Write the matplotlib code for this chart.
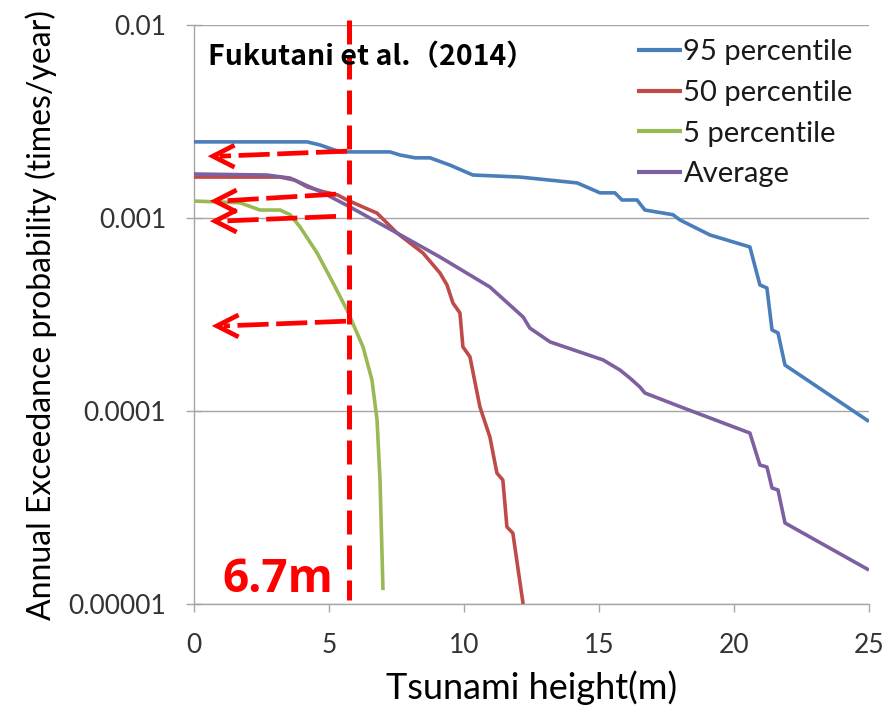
import matplotlib
matplotlib.use("Agg")
import matplotlib.pyplot as plt
from matplotlib.ticker import FixedLocator, NullLocator, FixedFormatter

# Exceedance curves: tsunami height (m) vs annual exceedance probability
p95_h = [0.0, 4.19, 4.67, 5.41, 7.26, 7.63, 8.19, 8.74, 9.48, 10.33, 12.07, 14.19,
         15.04, 15.59, 15.85, 16.41, 16.70, 17.74, 18.0, 19.11, 20.59, 20.96, 21.22,
         21.41, 21.63, 21.89, 25.0]
p95_p = [0.00248, 0.00248, 0.00239, 0.00220, 0.00220, 0.00212, 0.00205, 0.00205,
         0.00188, 0.00167, 0.00163, 0.00152, 0.00135, 0.00135, 0.00124, 0.00124,
         0.00110, 0.00104, 0.000977, 0.000817, 0.000708, 0.000450, 0.000434,
         0.000263, 0.000254, 0.000173, 8.83e-5]

p50_h = [0.0, 3.19, 3.74, 4.19, 4.78, 5.30, 5.67, 6.26, 6.78, 7.52, 8.48, 9.11, 9.37,
         9.59, 9.85, 9.96, 10.22, 10.59, 10.96, 11.22, 11.44, 11.59, 11.81, 12.19]
p50_p = [0.00163, 0.00163, 0.00157, 0.00145, 0.00137, 0.00132, 0.00124, 0.00114,
         0.00106, 0.000836, 0.000659, 0.000519, 0.000450, 0.000363, 0.000322,
         0.000215, 0.000191, 0.000105, 7.33e-5, 4.77e-5, 4.39e-5, 2.51e-5, 2.33e-5,
         1.0e-5]

p5_h = [0.0, 1.70, 2.44, 3.19, 3.56, 3.93, 4.56, 5.15, 5.67, 5.78, 6.26, 6.59, 6.78,
        6.89, 7.0]
p5_p = [0.001224, 0.00120, 0.00110, 0.00110, 0.00104, 0.000898, 0.000659, 0.000461,
        0.000333, 0.000307, 0.000215, 0.000145, 8.98e-5, 4.39e-5, 1.18e-5]

avg_h = [0.0, 2.70, 3.56, 4.78, 5.78, 7.52, 9.11, 10.96, 12.19, 12.44, 13.19, 15.15,
         15.78, 16.15, 16.52, 16.70, 18.11, 20.59, 20.96, 21.22, 21.41, 21.63, 21.89,
         25.0]
avg_p = [0.00169, 0.00167, 0.00161, 0.00135, 0.00114, 0.000836, 0.000628, 0.000439,
         0.000307, 0.000269, 0.000228, 0.000184, 0.000163, 0.000148, 0.000133,
         0.000124, 0.000104, 7.69e-5, 5.25e-5, 5.13e-5, 3.99e-5, 3.90e-5, 2.63e-5,
         1.50e-5]

series_labels = ["95 percentile", "50 percentile", "5 percentile", "Average"]
series_colors = ["#4A7EBB", "#BE4B48", "#98B954", "#7D60A0"]

# Reference height line and read-off arrows (start on the line, tip near the axis)
ref_height = 5.75
ref_label = "6.7m"
arrow_start_h = [5.67, 5.26, 5.26, 5.63]
arrow_start_p = [0.00222, 0.00133, 0.00102, 0.000292]
arrow_tip_h = [0.70, 0.78, 0.78, 0.85]
arrow_tip_p = [0.00209, 0.001225, 0.000964, 0.000276]

y_ticks = [1e-5, 1e-4, 1e-3, 1e-2]
y_tick_labels = ["0.00001", "0.0001", "0.001", "0.01"]
x_ticks = [0, 5, 10, 15, 20, 25]

FONT = "Lato"
TXT = "#333333"
GRID = "#a6a6a6"
RED = "#ff0000"

fig = plt.figure(figsize=(8.94, 7.14), dpi=100)
ax = fig.add_axes([0.217, 0.154, 0.755, 0.811])

curves = [(p95_h, p95_p), (p50_h, p50_p), (p5_h, p5_p), (avg_h, avg_p)]
for (h, p), lab, col in zip(curves, series_labels, series_colors):
    ax.plot(h, p, color=col, lw=2.6, label=lab, solid_joinstyle="round",
            solid_capstyle="butt", zorder=3)

ax.set_yscale("log")
ax.set_xlim(0, 25)
ax.set_ylim(1e-5, 1e-2)

ax.yaxis.set_major_locator(FixedLocator(y_ticks))
ax.yaxis.set_major_formatter(FixedFormatter(y_tick_labels))
ax.yaxis.set_minor_locator(NullLocator())
ax.xaxis.set_major_locator(FixedLocator(x_ticks))
ax.xaxis.set_minor_locator(NullLocator())

ax.grid(axis="y", color=GRID, lw=1.0)
ax.set_axisbelow(True)
for s in ("top", "right"):
    ax.spines[s].set_visible(False)
for s in ("left", "bottom"):
    ax.spines[s].set_color(GRID)
    ax.spines[s].set_linewidth(1.0)

ax.tick_params(axis="y", direction="inout", length=12, width=1.0, color=GRID,
               pad=14, labelsize=19, labelcolor=TXT)
ax.tick_params(axis="x", direction="out", length=6, width=1.0, color=GRID,
               pad=15, labelsize=19, labelcolor=TXT)
for lbl in ax.get_xticklabels() + ax.get_yticklabels():
    lbl.set_fontfamily(FONT)

ax.set_xlabel("Tsunami height(m)", fontsize=26, family=FONT, color="black", labelpad=9)
ax.set_ylabel("Annual Exceedance probability (times/year)", fontsize=23, family=FONT,
              color="black", labelpad=8)

leg = ax.legend(loc="upper left", bbox_to_anchor=(0.656, 0.975), frameon=False,
                prop={"family": FONT, "size": 21}, handlelength=1.55,
                handletextpad=0.05, labelspacing=0.50, borderpad=0, borderaxespad=0)
for t in leg.get_texts():
    t.set_color("#1a1a1a")
for hl in leg.get_lines():
    hl.set_linewidth(3.0)

ax.text(0.021, 0.945, "Fukutani et al.（2014）", transform=ax.transAxes,
        family=["Noto Sans CJK JP", "DejaVu Sans"],
        fontweight="bold", fontsize=20.5, ha="left", va="center", color="black",
        zorder=5)

# vertical reference line
ax.plot([ref_height, ref_height], [1.06e-2, 1.05e-5], color=RED, lw=3.6,
        dashes=(4.8, 2.2), clip_on=False, zorder=4)

# dashed read-off arrows with open chevron heads
head_dx = 0.8
head_fy = 10 ** (11 / 193)
for x0, y0, x1, y1 in zip(arrow_start_h, arrow_start_p, arrow_tip_h, arrow_tip_p):
    ax.plot([x0, x1 + 0.25], [y0, y1], color=RED, lw=3.4, dashes=(6.6, 1.6),
            solid_capstyle="butt", zorder=4)
    ax.plot([x1 + head_dx, x1, x1 + head_dx], [y1 * head_fy, y1, y1 / head_fy],
            color=RED, lw=3.4, solid_joinstyle="miter", solid_capstyle="butt",
            zorder=4)

ax.text(5.15, 1.15e-5, ref_label, color=RED, fontsize=33, fontweight="bold",
        family=["Open Sans", "DejaVu Sans"], ha="right", va="baseline", zorder=5)

fig.savefig("out.png", dpi=100, facecolor="white")
